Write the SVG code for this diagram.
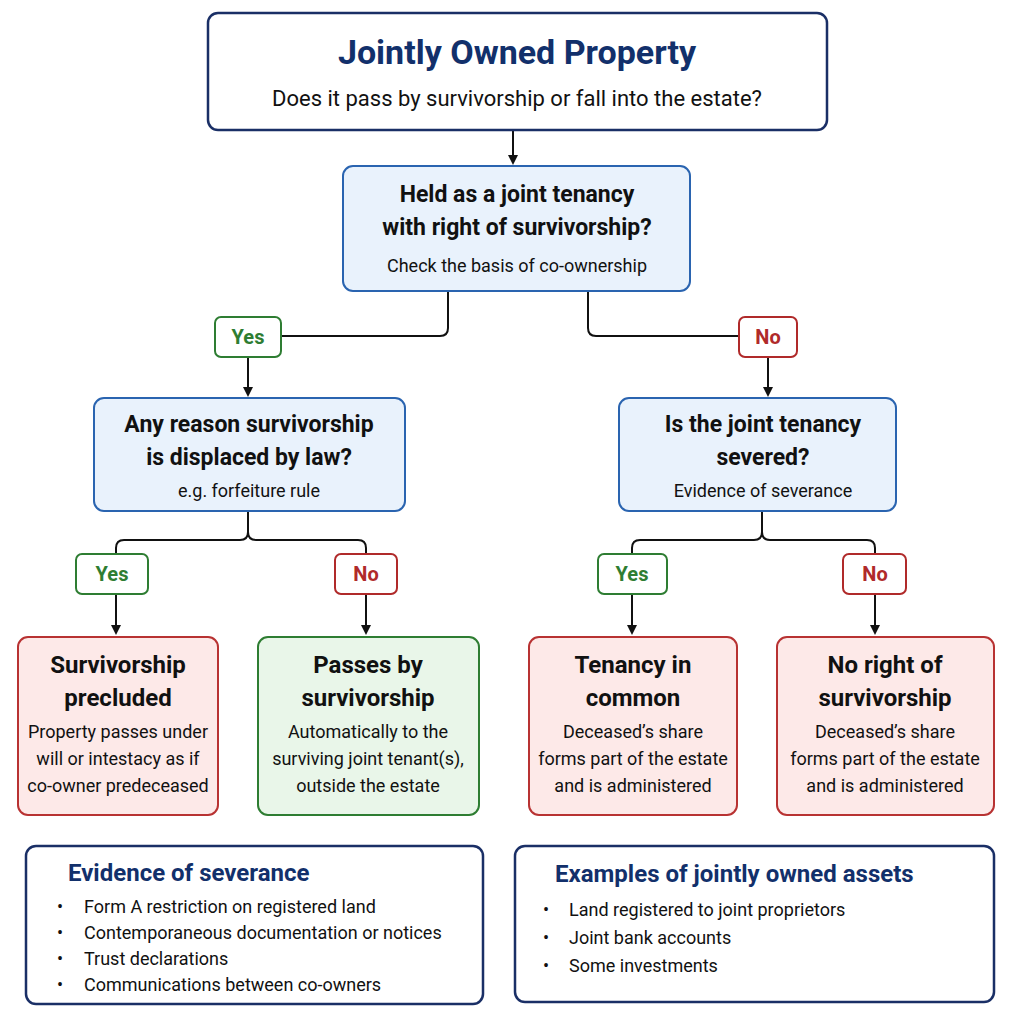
<svg xmlns="http://www.w3.org/2000/svg" width="1011" height="1023" viewBox="0 0 1011 1023">
<style>
text{font-family:Roboto,"Liberation Sans",sans-serif;fill:#111;text-anchor:middle}
.b{font-weight:bold}
.q{fill:#e9f2fc;stroke:#2a64b0;stroke-width:2}
.r{fill:#fde9e8;stroke:#b83232;stroke-width:2}
.g{fill:#e9f6e9;stroke:#2e7d32;stroke-width:2}
.n{fill:#fff;stroke:#1a2f66;stroke-width:2.5}
.yl{fill:#fff;stroke:#2e7d32;stroke-width:2}
.nl{fill:#fff;stroke:#b02a2a;stroke-width:2}
.c{fill:none;stroke:#111;stroke-width:2}
.l{text-anchor:start}
</style>
<defs><marker id="a" markerWidth="10" markerHeight="10" refX="8" refY="5" orient="auto" markerUnits="userSpaceOnUse"><path d="M0,0L10,5L0,10z" fill="#111"/></marker></defs>
<g id="connectors">
<path class="c" d="M513,130V163" marker-end="url(#a)"/>
<path class="c" d="M448,291V328Q448,336 440,336H282"/>
<path class="c" d="M248,357V395" marker-end="url(#a)"/>
<path class="c" d="M588,291V328Q588,336 596,336H739"/>
<path class="c" d="M768,357V395" marker-end="url(#a)"/>
<path class="c" d="M248,511V532Q248,540 240,540H124Q116,540 116,548V554M248,532Q248,540 256,540H358Q366,540 366,548V554"/>
<path class="c" d="M116,594V633" marker-end="url(#a)"/>
<path class="c" d="M366,594V633" marker-end="url(#a)"/>
<path class="c" d="M762,511V532Q762,540 754,540H640Q632,540 632,548V554M762,532Q762,540 770,540H867Q875,540 875,548V554"/>
<path class="c" d="M632,594V633" marker-end="url(#a)"/>
<path class="c" d="M875,594V633" marker-end="url(#a)"/>
</g>
<g id="title"><rect class="n" x="208" y="13" width="619" height="117" rx="10" stroke-width="3"/>
<text x="517" y="64" class="b" font-size="34" style="fill:#12306b">Jointly Owned Property</text>
<text x="517" y="106" font-size="22">Does it pass by survivorship or fall into the estate?</text></g>
<g id="q1"><rect class="q" x="343" y="166" width="347" height="125" rx="10"/>
<text x="517" y="202" class="b" font-size="23">Held as a joint tenancy</text>
<text x="517" y="235" class="b" font-size="23">with right of survivorship?</text>
<text x="517" y="272" font-size="18">Check the basis of co-ownership</text></g>
<g id="yes1"><rect class="yl" x="215" y="317" width="66" height="40" rx="6"/><text x="248" y="344" class="b" font-size="20" style="fill:#2e7d32">Yes</text></g>
<g id="no1"><rect class="nl" x="739" y="317" width="58" height="40" rx="6"/><text x="768" y="344" class="b" font-size="20" style="fill:#b02a2a">No</text></g>
<g id="q2"><rect class="q" x="94" y="398" width="311" height="113" rx="10"/>
<text x="249" y="432" class="b" font-size="23">Any reason survivorship</text>
<text x="249" y="465" class="b" font-size="23">is displaced by law?</text>
<text x="249" y="497" font-size="18">e.g. forfeiture rule</text></g>
<g id="q3"><rect class="q" x="619" y="398" width="277" height="113" rx="10"/>
<text x="763" y="432" class="b" font-size="23">Is the joint tenancy</text>
<text x="763" y="465" class="b" font-size="23">severed?</text>
<text x="763" y="497" font-size="18">Evidence of severance</text></g>
<g id="yes2"><rect class="yl" x="76" y="554" width="72" height="40" rx="6"/><text x="112" y="581" class="b" font-size="20" style="fill:#2e7d32">Yes</text></g>
<g id="no2"><rect class="nl" x="335" y="554" width="62" height="40" rx="6"/><text x="366" y="581" class="b" font-size="20" style="fill:#b02a2a">No</text></g>
<g id="yes3"><rect class="yl" x="598" y="554" width="69" height="40" rx="6"/><text x="632" y="581" class="b" font-size="20" style="fill:#2e7d32">Yes</text></g>
<g id="no3"><rect class="nl" x="843" y="554" width="63" height="40" rx="6"/><text x="875" y="581" class="b" font-size="20" style="fill:#b02a2a">No</text></g>
<g id="r1"><rect class="r" x="18" y="637" width="200" height="178" rx="10"/>
<text x="118" y="673" class="b" font-size="24">Survivorship</text><text x="118" y="706" class="b" font-size="24">precluded</text>
<text x="118" y="738" font-size="18">Property passes under</text><text x="118" y="765" font-size="18">will or intestacy as if</text><text x="118" y="792" font-size="18">co-owner predeceased</text></g>
<g id="r2"><rect class="g" x="258" y="637" width="221" height="178" rx="10"/>
<text x="368" y="673" class="b" font-size="24">Passes by</text><text x="368" y="706" class="b" font-size="24">survivorship</text>
<text x="368" y="738" font-size="18">Automatically to the</text><text x="368" y="765" font-size="18">surviving joint tenant(s),</text><text x="368" y="792" font-size="18">outside the estate</text></g>
<g id="r3"><rect class="r" x="529" y="637" width="208" height="178" rx="10"/>
<text x="633" y="673" class="b" font-size="24">Tenancy in</text><text x="633" y="706" class="b" font-size="24">common</text>
<text x="633" y="738" font-size="18">Deceased’s share</text><text x="633" y="765" font-size="18">forms part of the estate</text><text x="633" y="792" font-size="18">and is administered</text></g>
<g id="r4"><rect class="r" x="777" y="637" width="217" height="178" rx="10"/>
<text x="885" y="673" class="b" font-size="24">No right of</text><text x="885" y="706" class="b" font-size="24">survivorship</text>
<text x="885" y="738" font-size="18">Deceased’s share</text><text x="885" y="765" font-size="18">forms part of the estate</text><text x="885" y="792" font-size="18">and is administered</text></g>
<g id="ev"><rect class="n" x="26" y="846" width="457" height="158" rx="10"/>
<text x="68" y="881" class="b l" font-size="24" style="fill:#12306b">Evidence of severance</text>
<g font-size="18"><text x="60" y="913">•</text><text x="84" y="913" class="l">Form A restriction on registered land</text>
<text x="60" y="939">•</text><text x="84" y="939" class="l">Contemporaneous documentation or notices</text>
<text x="60" y="965">•</text><text x="84" y="965" class="l">Trust declarations</text>
<text x="60" y="991">•</text><text x="84" y="991" class="l">Communications between co-owners</text></g></g>
<g id="ex"><rect class="n" x="515" y="846" width="479" height="156" rx="10"/>
<text x="555" y="882" class="b l" font-size="24" style="fill:#12306b">Examples of jointly owned assets</text>
<g font-size="18"><text x="546" y="916">•</text><text x="569" y="916" class="l">Land registered to joint proprietors</text>
<text x="546" y="944">•</text><text x="569" y="944" class="l">Joint bank accounts</text>
<text x="546" y="972">•</text><text x="569" y="972" class="l">Some investments</text></g></g>
</svg>
